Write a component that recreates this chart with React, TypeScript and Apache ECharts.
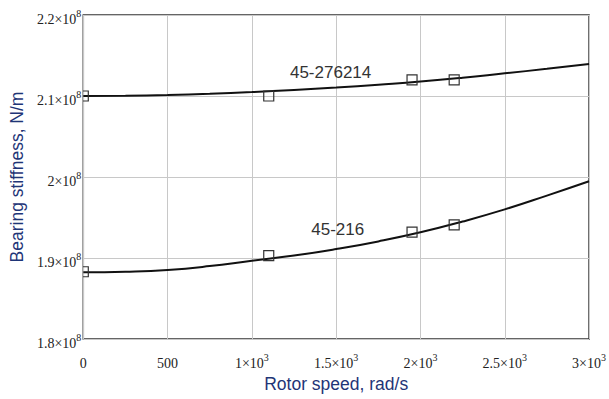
import React, { useEffect, useRef } from "react";
import * as echarts from "echarts";

// Rotor speed samples (rad/s) along the fitted curves
const speeds = [0, 250, 500, 750, 1000, 1250, 1500, 1750, 2000, 2250, 2500, 2750, 3000];
// Bearing stiffness curves (N/m)
const curve276214 = [2.1e8, 2.1003e8, 2.1012e8, 2.1027e8, 2.1048e8, 2.1075e8, 2.1105e8, 2.114e8, 2.1178e8, 2.1225e8, 2.128e8, 2.1335e8, 2.1395e8];
const curve216 = [1.8823e8, 1.883e8, 1.8852e8, 1.89e8, 1.8967e8, 1.903e8, 1.911e8, 1.9205e8, 1.9317e8, 1.945e8, 1.96e8, 1.977e8, 1.9947e8];
// Measured points (square markers)
const pointSpeeds = [0, 1100, 1950, 2200];
const points276214 = [2.1e8, 2.1e8, 2.12e8, 2.12e8];
const points216 = [1.883e8, 1.903e8, 1.932e8, 1.941e8];
// Curve labels
const labelNames = ["45-276214", "45-216"];
const labelSpeeds = [1467, 1509];
const labelValues = [2.1296e8, 1.9346e8];
// Tick labels (mantissa^exponent)
const xTickLabels = ["0", "500", "1×10^3", "1.5×10^3", "2×10^3", "2.5×10^3", "3×10^3"];
const yTickLabels = ["1.8×10^8", "1.9×10^8", "2×10^8", "2.1×10^8", "2.2×10^8"];

const zip = (xs: number[], ys: number[]) => xs.map((x, i) => [x, ys[i]]);

const toRich = (s: string | undefined) => {
  if (!s) return "";
  const [base, exp] = s.split("^");
  return exp ? `{b|${base}}{s|${exp}}` : `{b|${base}}`;
};

export default function App() {
  const ref = useRef<HTMLDivElement>(null);
  useEffect(() => {
    document.body.style.margin = "0";
    if (!ref.current) return;
    const chart = echarts.init(ref.current, undefined, { renderer: "svg" });
    const serif = "Liberation Serif, Times New Roman, serif";
    const tickRich = {
      b: {
        fontFamily: serif,
        fontSize: 14,
        color: "#222",
        lineHeight: 22,
        verticalAlign: "bottom",
      },
      s: {
        fontFamily: serif,
        fontSize: 10,
        color: "#222",
        verticalAlign: "top",
        padding: [4, 0, 0, 0],
      },
    };
    const nameStyle = {
      fontFamily: "Liberation Sans, Arial, sans-serif",
      fontSize: 17.5,
      color: "#1f3577",
    };
    const markerSeries = (name: string, vals: number[]) => ({
      type: "custom",
      name,
      data: zip(pointSpeeds, vals),
      clip: true,
      z: 5,
      renderItem: (_params: any, api: any) => {
        const p = api.coord([api.value(0), api.value(1)]);
        return {
          type: "rect",
          shape: { x: p[0] - 5, y: p[1] - 5, width: 10, height: 10 },
          style: { fill: "none", stroke: "#333", lineWidth: 1.2 },
        };
      },
    });
    const lineSeries = (name: string, vals: number[], idx: number) => ({
      type: "line",
      name,
      data: zip(speeds, vals),
      smooth: true,
      showSymbol: false,
      lineStyle: { color: "#111", width: 2 },
      markPoint: {
        symbol: "circle",
        symbolSize: 0,
        data: [
          {
            coord: [labelSpeeds[idx], labelValues[idx]],
            label: {
              show: true,
              formatter: labelNames[idx],
              position: "inside",
              fontFamily: "Liberation Sans, Arial, sans-serif",
              fontSize: 17,
              color: "#333",
            },
          },
        ],
      },
    });
    chart.setOption({
      animation: false,
      grid: {
        left: 83,
        right: 19,
        top: 15,
        bottom: 60,
        show: true,
        borderColor: "#333",
        borderWidth: 1.5,
        backgroundColor: "#fff",
      },
      xAxis: {
        type: "value",
        min: 0,
        max: 3000,
        interval: 500,
        name: "Rotor speed, rad/s",
        nameLocation: "middle",
        nameGap: 35,
        nameTextStyle: nameStyle,
        axisLine: { show: false },
        axisTick: { show: false },
        splitLine: { show: true, lineStyle: { color: "#c8c8c8", width: 1 } },
        axisLabel: {
          margin: 9,
          rich: tickRich,
          formatter: (_v: number, i: number) => toRich(xTickLabels[i]),
        },
      },
      yAxis: {
        type: "value",
        min: 1.8e8,
        max: 2.2e8,
        interval: 1e7,
        name: "Bearing stiffness, N/m",
        nameLocation: "middle",
        nameGap: 56,
        nameTextStyle: nameStyle,
        axisLine: { show: false },
        axisTick: { show: false },
        splitLine: { show: true, lineStyle: { color: "#c8c8c8", width: 1 } },
        axisLabel: {
          margin: 2,
          rich: tickRich,
          formatter: (_v: number, i: number) => toRich(yTickLabels[i]),
        },
      },
      series: [
        lineSeries("45-276214", curve276214, 0),
        lineSeries("45-216", curve216, 1),
        markerSeries("45-276214 points", points276214),
        markerSeries("45-216 points", points216),
      ],
    });
    return () => chart.dispose();
  }, []);
  return <div ref={ref} style={{ width: 609, height: 399 }} />;
}
